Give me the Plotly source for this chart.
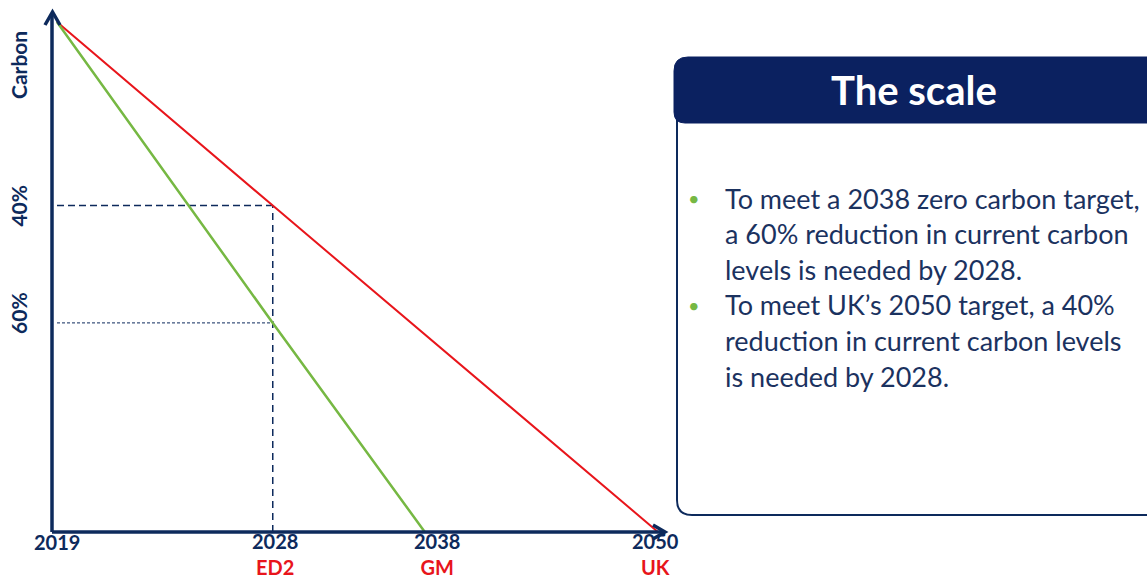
import plotly.graph_objects as go

# ---------------- data ----------------
milestone_years = ["2019", "2028", "2038", "2050"]
milestone_targets = ["", "ED2", "GM", "UK"]
# schematic position of each milestone along the time arrow (0 = 2019, 1 = 2050)
milestone_pos = [0.0, 0.359, 0.612, 1.0]
# remaining carbon (% of 2019 level) along each pathway
uk_carbon = [100, 64, None, 0]     # UK 2050 target (red)
gm_carbon = [100, 41, 0, None]     # GM 2038 target (green)
reduction_labels = ["40%", "60%"]  # reduction by 2028 on UK / GM paths

box_title = "The scale"
bullet_lines = [
    ["To meet a 2038 zero carbon target,",
     "a 60% reduction in current carbon",
     "levels is needed by 2028."],
    ["To meet UK\u2019s 2050 target, a 40%",
     "reduction in current carbon levels",
     "is needed by 2028."],
]

# ---------------- style ----------------
W, H = 1147, 580
NAVY = "#0d2a5c"
HEADER = "#0b2160"
TEXT = "#1b325f"
RED = "#e8151b"
GREEN = "#76b843"
FONT = "Lato"
AX_SIZE = 21
X_SIZE = 20


def px(X):
    return X / W


def py(Y):
    return 1 - Y / H


fig = go.Figure()

# reference lines at 2028
x28 = milestone_pos[1]
fig.add_trace(go.Scatter(x=[milestone_pos[0], x28], y=[uk_carbon[1], uk_carbon[1]],
                         mode="lines", line=dict(color=NAVY, width=1.5, dash="7px,4px"),
                         hoverinfo="skip"))
fig.add_trace(go.Scatter(x=[x28, x28], y=[0, uk_carbon[1]],
                         mode="lines", line=dict(color=NAVY, width=1.5, dash="7px,5px"),
                         hoverinfo="skip"))
fig.add_trace(go.Scatter(x=[milestone_pos[0], x28], y=[gm_carbon[1], gm_carbon[1]],
                         mode="lines", line=dict(color=NAVY, width=1, dash="3px,2px"),
                         hoverinfo="skip"))

# pathways
fig.add_trace(go.Scatter(x=milestone_pos, y=uk_carbon, mode="lines", connectgaps=True,
                         line=dict(color=RED, width=2), name="UK"))
fig.add_trace(go.Scatter(x=milestone_pos, y=gm_carbon, mode="lines", connectgaps=True,
                         line=dict(color=GREEN, width=2.5), name="GM"))

# axes drawn as arrows
shapes = []
shapes.append(dict(type="line", xref="paper", yref="paper",
                   x0=px(52), y0=py(532), x1=px(664), y1=py(532),
                   line=dict(color=NAVY, width=3.5)))
shapes.append(dict(type="line", xref="paper", yref="paper",
                   x0=px(52), y0=py(532), x1=px(52), y1=py(13),
                   line=dict(color=NAVY, width=3.5)))
shapes.append(dict(type="path", xref="paper", yref="paper",
                   path=f"M {px(45)},{py(25)} L {px(52.5)},{py(12)} L {px(60)},{py(25)}",
                   line=dict(color=NAVY, width=3.5)))
shapes.append(dict(type="path", xref="paper", yref="paper",
                   path=f"M {px(653)},{py(525)} L {px(665)},{py(532)} L {px(653)},{py(539)}",
                   line=dict(color=NAVY, width=3.5)))

# text box
shapes.append(dict(type="path", xref="paper", yref="paper", layer="below",
                   path=(f"M {px(677)},{py(115)} L {px(677)},{py(500)} "
                         f"Q {px(677)},{py(515)} {px(692)},{py(515)} L {px(1170)},{py(515)}"),
                   line=dict(color=NAVY, width=2)))
shapes.append(dict(type="path", xref="paper", yref="paper", layer="below",
                   path=(f"M {px(674)},{py(71)} Q {px(674)},{py(57)} {px(688)},{py(57)} "
                         f"L {px(1170)},{py(57)} L {px(1170)},{py(123)} L {px(685)},{py(123)} "
                         f"Q {px(674)},{py(123)} {px(674)},{py(112)} Z"),
                   fillcolor=HEADER, line=dict(color=HEADER, width=1)))

annotations = []
# x labels (year + target as one two-line label)
year_shift = [0, 2, 12, -3]
for pos, yr, tg, sh in zip(milestone_pos, milestone_years, milestone_targets, year_shift):
    if tg:
        annotations.append(dict(
            x=pos, y=0, xref="x", yref="paper", xanchor="center", yanchor="bottom",
            text=f"<b>{yr}</b><br><b><span style='color:{RED}'>{tg}</span></b>",
            showarrow=False, xshift=sh, borderpad=0,
            font=dict(family=FONT, size=X_SIZE, color=NAVY)))
    else:
        annotations.append(dict(
            x=pos, y=py(542), xref="x", yref="paper", xanchor="center", yanchor="middle",
            text=f"<b>{yr}</b>", showarrow=False, xshift=sh,
            font=dict(family=FONT, size=X_SIZE, color=NAVY)))

# y labels
annotations.append(dict(x=px(19), y=uk_carbon[1], xref="paper", yref="y",
                        xanchor="center", yanchor="middle",
                        text=f"<b>{reduction_labels[0]}</b>", textangle=-90, showarrow=False,
                        font=dict(family=FONT, size=AX_SIZE, color=NAVY)))
annotations.append(dict(x=px(19), y=gm_carbon[1], xref="paper", yref="y",
                        xanchor="center", yanchor="middle", yshift=10,
                        text=f"<b>{reduction_labels[1]}</b>", textangle=-90, showarrow=False,
                        font=dict(family=FONT, size=AX_SIZE, color=NAVY)))
annotations.append(dict(x=px(19), y=py(65), xref="paper", yref="paper",
                        xanchor="center", yanchor="middle",
                        text="<b>Carbon</b>", textangle=-90, showarrow=False,
                        font=dict(family=FONT, size=AX_SIZE, color=NAVY)))

# box title
annotations.append(dict(x=px(914), y=py(90), xref="paper", yref="paper",
                        xanchor="center", yanchor="middle",
                        text=f"<b>{box_title}</b>", showarrow=False,
                        font=dict(family=FONT, size=40, color="white")))

# bullets
line_y = 198
for lines in bullet_lines:
    annotations.append(dict(x=px(694), y=py(line_y), xref="paper", yref="paper",
                            xanchor="center", yanchor="middle", text="\u2022", showarrow=False,
                            font=dict(family=FONT, size=20, color=GREEN)))
    for ln in lines:
        annotations.append(dict(x=px(723), y=py(line_y), xref="paper", yref="paper",
                                text=ln, showarrow=False, xanchor="left", yanchor="middle",
                                font=dict(family=FONT, size=27, color=TEXT)))
        line_y += 35.6

fig.update_layout(
    width=W, height=H,
    margin=dict(l=0, r=0, t=0, b=0),
    paper_bgcolor="white", plot_bgcolor="rgba(0,0,0,0)",
    showlegend=False,
    xaxis=dict(domain=[px(52), px(658)], range=[-0.00832, 1.0], visible=False, fixedrange=True),
    yaxis=dict(domain=[py(532), py(22)], range=[0, 100], visible=False, fixedrange=True),
    shapes=shapes,
    annotations=annotations,
    font=dict(family=FONT),
)

fig.write_html("out.html")
